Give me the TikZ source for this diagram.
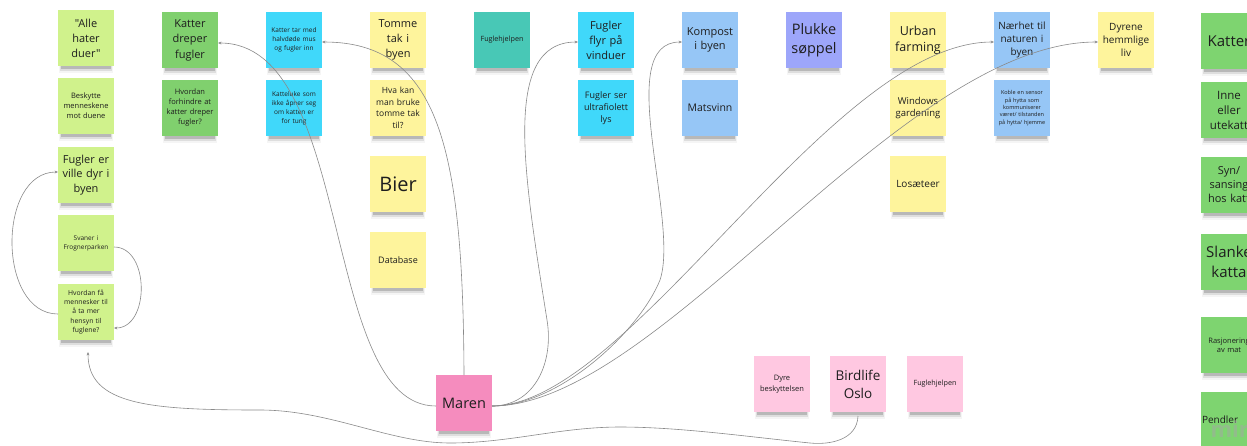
\documentclass[tikz,border=0pt]{standalone}
\usepackage{fontspec}
\setmainfont{Open Sans}[Ligatures=TeXOff]
\usetikzlibrary{arrows.meta}

% sticky-note colours
\definecolor{lime}{HTML}{D0F28C}
\definecolor{leaf}{HTML}{80D06E}
\definecolor{leafb}{HTML}{7ED470}
\definecolor{sky}{HTML}{40D8FA}
\definecolor{butter}{HTML}{FEF49C}
\definecolor{teal}{HTML}{48C8B6}
\definecolor{pale}{HTML}{96C6F6}
\definecolor{peri}{HTML}{9DA6FA}
\definecolor{rose}{HTML}{F58CBE}
\definecolor{blush}{HTML}{FFC8E1}
\definecolor{notetext}{HTML}{1E1E1E}
\definecolor{linegray}{HTML}{8A8A8A}

\newcommand\notefont[2]{\fontsize{#1}{#2}\selectfont}

\tikzset{
  note/.style={minimum width=56pt, minimum height=56pt, inner sep=0pt, outer sep=0pt,
               text width=54pt, align=center, text=notetext},
  conn/.style={draw=linegray, line width=0.6pt, -{Stealth[length=3.4pt,width=2.8pt]}},
}

% #1 name, #2 left x, #3 top y, #4 fill, #5 extra node options, #6 text
\newcommand\stickynote[6]{%
  \fill[black, opacity=0.17] (#2+3,#3+54) rectangle (#2+53,#3+58.5);
  \fill[black, opacity=0.09] (#2+2,#3+54) rectangle (#2+54,#3+61);
  \fill[black, opacity=0.04] (#2+1,#3+54) rectangle (#2+55,#3+63);
  \node[note, fill=#4, #5] (#1) at (#2+28,#3+28) {#6};
}

\begin{document}
\begin{tikzpicture}[x=1pt, y=-1pt]
\fill[white] (0,0) rectangle (1247,445);
\useasboundingbox (0,0) rectangle (1247,445);

% column 1
\stickynote{alle}{58}{10}{lime}{font=\notefont{11}{15}}{"Alle\\hater\\duer"}
\stickynote{beskytte}{58}{78}{lime}{font=\notefont{7.5}{10}}{Beskytte\\menneskene\\mot duene}
\stickynote{fuglerville}{58}{147}{lime}{font=\notefont{11}{14.7}}{Fugler er\\ville dyr i\\byen}
\stickynote{svaner}{58}{215}{lime}{font=\notefont{6.5}{9}}{Svaner i\\Frognerparken}
\stickynote{hvordanfaa}{58}{284}{lime}{font=\notefont{6.8}{9.3}}{Hvordan få\\mennesker til\\å ta mer\\hensyn til\\fuglene?}

% column 2
\stickynote{katterdreper}{162}{12}{leaf}{font=\notefont{11}{15.5}}{Katter\\dreper\\fugler}
\stickynote{forhindre}{162}{80}{leaf}{font=\notefont{7.5}{10}}{Hvordan\\forhindre at\\katter dreper\\fugler?}

% column 3
\stickynote{kattertar}{266}{12}{sky}{font=\notefont{6.5}{9}}{Katter tar med\\halvdøde mus\\og fugler inn}
\stickynote{katteluke}{266}{80}{sky}{font=\notefont{6.5}{9}}{Katteluke som\\ikke åpner seg\\om katten er\\for tung}

% column 4
\stickynote{tomme}{370}{12}{butter}{font=\notefont{11}{15}}{Tomme\\tak i\\byen}
\stickynote{hvakan}{370}{80}{butter}{font=\notefont{8.5}{11.5}}{Hva kan\\man bruke\\tomme tak\\til?}
\stickynote{bier}{370}{156}{butter}{font=\notefont{20}{24}}{Bier}
\stickynote{database}{370}{232}{butter}{font=\notefont{9}{12}}{Database}

% column 5
\stickynote{fuglehjelpen}{474}{12}{teal}{font=\notefont{7.2}{10}}{Fuglehjelpen}

% column 6
\stickynote{fuglerflyr}{578}{12}{sky}{font=\notefont{11}{15}}{Fugler\\flyr på\\vinduer}
\stickynote{ultrafiolett}{578}{80}{sky}{font=\notefont{9}{12}}{Fugler ser\\ultrafiolett\\lys}

% column 7
\stickynote{kompost}{682}{12}{pale}{font=\notefont{11}{14}}{Kompost\\i byen}
\stickynote{matsvinn}{682}{80}{pale}{font=\notefont{10.5}{13}}{Matsvinn}

% column 8
\stickynote{plukke}{786}{12}{peri}{font=\notefont{14.5}{19}}{Plukke\\søppel}

% column 9
\stickynote{urban}{890}{12}{butter}{font=\notefont{12.5}{16.5}}{Urban\\farming}
\stickynote{windows}{890}{80}{butter}{font=\notefont{9.5}{12.5}}{Windows\\gardening}
\stickynote{losaeteer}{890}{156}{butter}{font=\notefont{10}{13}}{Losæteer}

% column 10
\stickynote{naerhet}{994}{12}{pale}{font=\notefont{10}{13}}{Nærhet til\\naturen i\\byen}
\stickynote{koble}{994}{80}{pale}{font=\notefont{5.5}{7.3}}{Koble en sensor\\på hytta som\\kommuniserer\\været/ tilstanden\\på hytta/ hjemme}

% column 11
\stickynote{dyrene}{1098}{12}{butter}{font=\notefont{10}{13}}{Dyrene\\hemmlige\\liv}

% column 12 (runs off the right edge)
\stickynote{katter}{1201}{13}{leafb}{font=\notefont{15}{19}}{Katter}
\stickynote{inne}{1201}{82}{leafb}{font=\notefont{11.5}{15}}{Inne\\eller\\utekatt}
\stickynote{syn}{1201}{157}{leafb}{font=\notefont{11}{14}}{Syn/\\sansing\\hos katt}
\stickynote{slanke}{1201}{234}{leafb}{font=\notefont{15}{20}}{Slanke\\katta}
\stickynote{rasjonering}{1201}{317}{leafb}{font=\notefont{7.5}{9}}{Rasjonering\\av mat}
\stickynote{pendler}{1201}{392}{leafb}{font=\notefont{10}{13}, align=left}{Pendler}
\node[anchor=west, text=gray!70, opacity=0.5, font=\notefont{22}{22}\bfseries] (miro) at (1207,429) {miro};

% bottom row
\stickynote{maren}{436}{375}{rose}{font=\notefont{14.5}{18}}{Maren}
\stickynote{dyrebesk}{754}{356}{blush}{font=\notefont{7.5}{10.5}}{Dyre\\beskyttelsen}
\stickynote{birdlife}{830}{356}{blush}{font=\notefont{13.5}{18}}{Birdlife\\Oslo}
\stickynote{fuglehjelpenb}{907}{356}{blush}{font=\notefont{7.2}{10}}{Fuglehjelpen}

% connectors
\draw[conn] (maren.north) .. controls (463,150) and (440,42) .. ([yshift=-2pt]kattertar.east);
\draw[conn] ([yshift=-3pt]maren.west) .. controls (320,406) and (355,43) .. ([yshift=-3pt]katterdreper.east);
\draw[conn] ([yshift=-3pt]maren.east) .. controls (535,406) and (554,362) .. (547,320)
            .. controls (525,180) and (500,42) .. ([yshift=-2pt]fuglerflyr.west);
\draw[conn] ([yshift=-3pt]maren.east) .. controls (560,406) and (640,330) .. (660,280)
            .. controls (680,220) and (612,42) .. ([yshift=-2pt]kompost.west);
\draw[conn] ([yshift=-3pt]maren.east) .. controls (630,406) and (830,42) .. ([yshift=-2pt]naerhet.west);
\draw[conn] ([yshift=-3pt]maren.east) .. controls (660,406) and (900,42) .. ([yshift=-2pt]dyrene.west);

\draw[conn] ([yshift=-4pt]birdlife.south) .. controls (857,440) and (830,445) .. (810,443)
            .. controls (750,437) and (680,427) .. (620,427)
            .. controls (560,427) and (510,443) .. (450,443)
            .. controls (390,443) and (330,410) .. (260,410)
            .. controls (150,410) and (88,405) .. ([shift={(2pt,-12pt)}]hvordanfaa.south);

\draw[conn] ([yshift=-4pt]svaner.east) .. controls (150,247) and (150,328) .. ([yshift=-16pt]hvordanfaa.east);
\draw[conn] ([yshift=-2pt]hvordanfaa.west) .. controls (-3,314) and (-3,172) .. ([yshift=3pt]fuglerville.west);
\end{tikzpicture}
\end{document}
